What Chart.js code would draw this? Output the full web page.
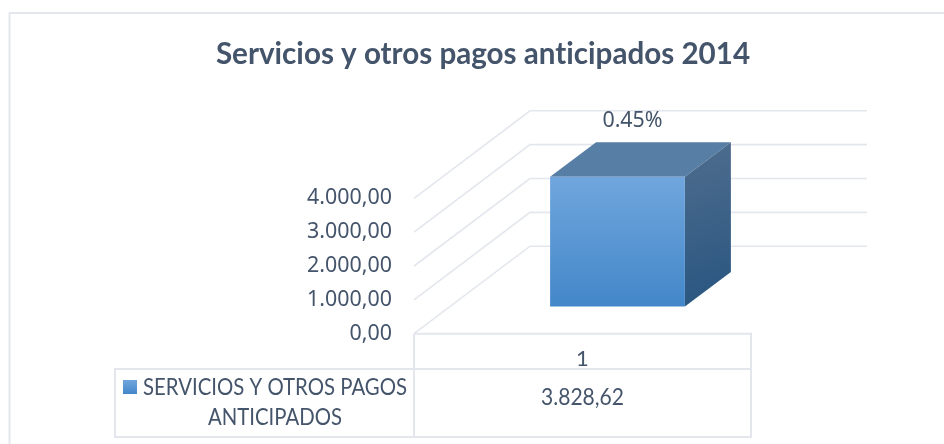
<!DOCTYPE html>
<html><head><meta charset="utf-8">
<style>html,body{margin:0;padding:0;background:#fff}canvas{display:block}</style>
<script src="https://cdn.jsdelivr.net/npm/chart.js@4/dist/chart.umd.min.js"></script>
</head><body><canvas id="c" width="944" height="444"></canvas>
<script>
const chartTitle = 'Servicios y otros pagos anticipados 2014';
const categories = ['1'];
const seriesLines = ['SERVICIOS Y OTROS PAGOS', 'ANTICIPADOS'];
const seriesValues = [3828.62];
const dataLabels = ['0.45%'];
const axisMax = 4000;
const axisStep = 1000;

const TEXT = '#44546a', LINE = '#e3e7ed';
function esNumber(v){
  const p = v.toFixed(2).split('.');
  return p[0].replace(/\B(?=(\d{3})+$)/g, '.') + ',' + p[1];
}
const WALL = {dx:116, dy:87.5, right:867};
const BAR = {tx:35, ty:-27.3, dx:46, dy:34.5};

function line(ctx, pts, w){
  ctx.beginPath(); pts.forEach((p,i)=> i?ctx.lineTo(p[0],p[1]):ctx.moveTo(p[0],p[1]));
  ctx.lineWidth = w; ctx.strokeStyle = LINE; ctx.stroke();
}
const scene = {
  id:'scene',
  afterLayout(chart){
    chart.titleBlock.left = 0; chart.titleBlock.right = 966;
  },
  beforeDraw(chart){ chart.ctx.textRendering = 'optimizeSpeed'; },
  beforeDatasetsDraw(chart){
    const {ctx, chartArea:a, scales:{y}} = chart;
    ctx.save();
    line(ctx, [[9.5,444],[9.5,13],[944,13]], 2);
    y.ticks.forEach(t=>{
      const py = y.getPixelForValue(t.value);
      line(ctx, [[a.left,py],[a.left+WALL.dx,py-WALL.dy],[WALL.right,py-WALL.dy]], 1.6);
    });
    ctx.restore();
  },
  beforeDatasetDraw(chart, args){
    const {ctx} = chart;
    const b = chart.getDatasetMeta(args.index).data[0];
    ctx.save();
    ctx.translate(BAR.tx, BAR.ty);
    const l = b.x-b.width/2, r = b.x+b.width/2, t = b.y, bo = b.base;
    ctx.beginPath(); ctx.moveTo(l,t); ctx.lineTo(l+BAR.dx,t-BAR.dy); ctx.lineTo(r+BAR.dx,t-BAR.dy); ctx.lineTo(r,t); ctx.closePath();
    ctx.fillStyle = '#577ea4'; ctx.fill();
    const g = ctx.createLinearGradient(r,t-BAR.dy,r+BAR.dx,bo);
    g.addColorStop(0,'#4f6d8e'); g.addColorStop(1,'#285580');
    ctx.beginPath(); ctx.moveTo(r,t); ctx.lineTo(r+BAR.dx,t-BAR.dy); ctx.lineTo(r+BAR.dx,bo-BAR.dy); ctx.lineTo(r,bo); ctx.closePath();
    ctx.fillStyle = g; ctx.fill();
  },
  afterDatasetDraw(chart){ chart.ctx.restore(); },
  afterDatasetsDraw(chart){
    const {ctx, chartArea:a} = chart;
    const b = chart.getDatasetMeta(0).data[0];
    ctx.save();
    ctx.fillStyle = TEXT; ctx.textAlign='center'; ctx.textBaseline='middle';
    ctx.font = '21.4px "Noto Sans"';
    ctx.fillText(dataLabels[0], b.x+50, b.y+BAR.ty-BAR.dy-21.5);
    const L=115, R=a.right, T=a.bottom, M=369, B=437;
    line(ctx, [[a.left,B],[L,B],[L,M],[R,M]], 2);
    line(ctx, [[a.left,T],[R,T],[R,B],[a.left,B],[a.left,T]], 2);
    const g = ctx.createLinearGradient(0,380,0,394);
    g.addColorStop(0,'#70a6dd'); g.addColorStop(1,'#4387c9');
    ctx.fillStyle = g; ctx.fillRect(123,380,14,14);
    ctx.fillStyle = TEXT;
    ctx.font = '23px Lato';
    ctx.textAlign='left';
    ctx.fillText(seriesLines[0], 143, 388, 264);
    ctx.textAlign='center';
    ctx.fillText(seriesLines[1], 275, 418, 134);
    ctx.fillText(esNumber(seriesValues[0]), (a.left+a.right)/2, 398, 83);
    ctx.restore();
  }
};

new Chart(document.getElementById('c'), {
  type:'bar',
  data:{labels:categories, datasets:[{
    label:seriesLines.join(' '),
    data:seriesValues,
    clip:false,
    barPercentage:0.4,
    categoryPercentage:1,
    borderWidth:0,
    backgroundColor(ctx){
      const {chart} = ctx, y = chart.scales.y;
      if(!y || !chart.chartArea) return '#5a9bd8';
      const g = chart.ctx.createLinearGradient(0,y.getPixelForValue(seriesValues[0]),0,y.getPixelForValue(0));
      g.addColorStop(0,'#70a6dd'); g.addColorStop(1,'#4387c9');
      return g;
    }
  }]},
  options:{
    responsive:false, animation:false, events:[],
    layout:{padding:{left:0,right:193,top:0,bottom:60.3}},
    plugins:{
      legend:{display:false}, tooltip:{enabled:false},
      title:{display:true,text:chartTitle,color:TEXT,align:'center',
        font:{family:'Lato',size:29.6,weight:'bold',lineHeight:1.2},
        padding:{top:37,bottom:125.8}}
    },
    scales:{
      x:{
        afterFit(s){s.height=50;},
        grid:{display:false,drawTicks:false}, border:{display:false},
        ticks:{color:TEXT,font:{family:'Lato',size:22},padding:12}
      },
      y:{
        min:0,max:axisMax,
        afterFit(s){s.width=414;},
        grid:{display:false,drawTicks:false}, border:{display:false},
        ticks:{stepSize:axisStep,color:TEXT,font:{family:'Noto Sans',size:21.4},padding:22,
          callback:v=>esNumber(v)}
      }
    }
  },
  plugins:[scene]
});
</script></body></html>
